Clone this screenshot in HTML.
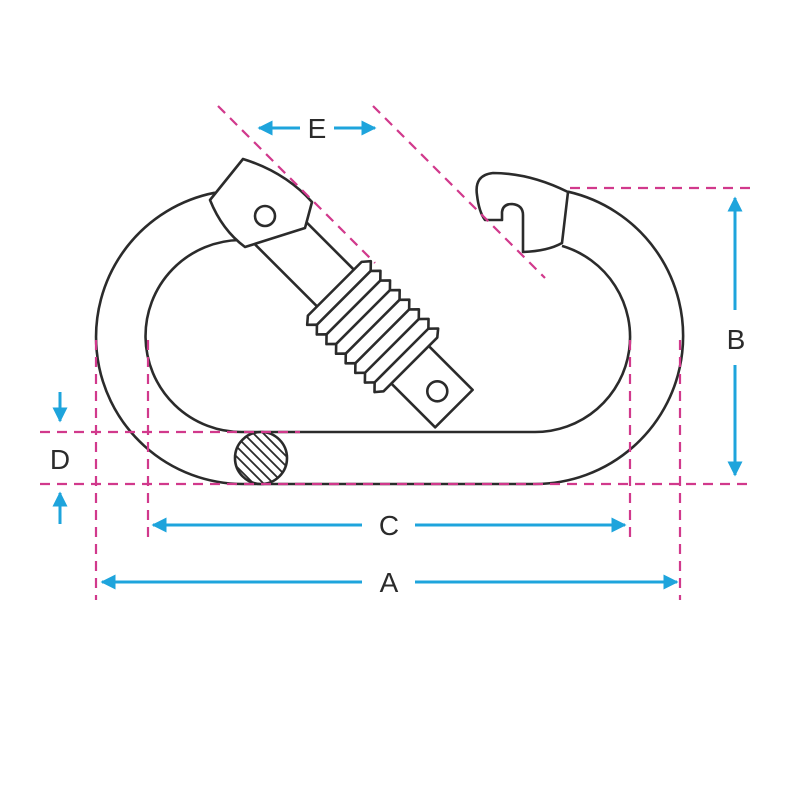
<!DOCTYPE html>
<html><head><meta charset="utf-8"><style>html,body{margin:0;padding:0;background:#fff}svg{display:block}</style></head><body>
<svg width="800" height="800" viewBox="0 0 800 800" xmlns="http://www.w3.org/2000/svg">
<defs>
<clipPath id="cc"><circle cx="261" cy="458" r="26"/></clipPath>
<marker id="ar" viewBox="0 0 10 10" refX="9" refY="5" markerWidth="5" markerHeight="5" orient="auto"><path d="M0,0 L10,5 L0,10 z" fill="#1ea4dc"/></marker>
</defs>
<g fill="none" stroke="#2b2b2b" stroke-width="2.6" stroke-linejoin="round">
<path d="M215,192.7 A147,147 0 0 0 243,484 L535,484 A148,148 0 0 0 568,191.7"/>
<path d="M240,240 A96,96 0 0 0 243,432 L535,432 A95,95 0 0 0 562,245.9"/>
<!-- hook -->
<path fill="#fff" d="M568,192 Q530,173 493,173 Q474,175 477,195 Q479,212 485,220 L502,220 L502,212 Q503,204 512,204 Q523,205 523,215 L523,252 Q548,251 562,243 Z"/>
<!-- gate -->
<g transform="translate(339,293) rotate(45)">
<path fill="#fff" d="M-100,-27 L-4,-27 L-4,25 L-100,25 Z"/>
<path fill="#fff" d="M95,-26 L163,-26 L163,27 L95,27 Z"/>
<circle cx="139" cy="0" r="10" fill="#fff"/>
<path fill="#fff" d="M-6,-38 L0,-45 L6.8,-38 L13.6,-45 L20.4,-38 L27.2,-45 L34,-38 L40.8,-45 L47.6,-38 L54.4,-45 L61.2,-38 L68,-45 L74.8,-38 L81.6,-45 L88.4,-38 L95.2,-45 L101,-38 L101,38 L95.2,45 L88.4,38 L81.6,45 L74.8,38 L68,45 L61.2,38 L54.4,45 L47.6,38 L40.8,45 L34,38 L27.2,45 L20.4,38 L13.6,45 L6.8,38 L0,45 L-6,38 Z"/>
<path d="M6.8,-38 L6.8,38 M20.4,-38 L20.4,38 M34,-38 L34,38 M47.6,-38 L47.6,38 M61.2,-38 L61.2,38 M74.8,-38 L74.8,38 M88.4,-38 L88.4,38"/>
</g>
<path fill="#fff" d="M243,159 L210,200 Q222,230 245,247 L305,228 L312,202 Q285,172 243,159 Z"/>
<circle cx="265" cy="216" r="10" fill="#fff"/>
<!-- section -->
<circle cx="261" cy="458" r="26" fill="#fff"/>
<g clip-path="url(#cc)" stroke-width="1.8">
<path d="M200,410 L300,510 M210,410 L310,510 M220,410 L320,510 M230,410 L330,510 M240,410 L340,510 M190,410 L290,510 M180,410 L280,510 M170,410 L270,510 M160,410 L260,510 M150,410 L250,510 M140,410 L240,510"/>
</g>
</g>
<!-- dashed -->
<g stroke="#d1398c" stroke-width="2.2" stroke-dasharray="10,7" fill="none">
<path d="M570,188 L752,188"/>
<path d="M40,484 L752,484"/>
<path d="M40,432 L300,432"/>
<path d="M96,340 L96,600"/>
<path d="M148,340 L148,540"/>
<path d="M630,340 L630,540"/>
<path d="M680,340 L680,600"/>
<path d="M218,106 L375,263"/>
<path d="M373,106 L545,278"/>
</g>
<!-- arrows -->
<g stroke="#1ea4dc" stroke-width="3" fill="none" marker-end="url(#ar)">
<path d="M362,582 L102,582"/><path d="M415,582 L677,582"/>
<path d="M362,525 L153,525"/><path d="M415,525 L625,525"/>
<path d="M735,310 L735,198"/><path d="M735,365 L735,475"/>
<path d="M300,128 L259,128"/><path d="M334,128 L375,128"/>
<path d="M60,392 L60,421"/><path d="M60,524 L60,493"/>
</g>
<g font-family="Liberation Sans, sans-serif" font-size="28" fill="#2b2b2b" text-anchor="middle">
<text x="389" y="592">A</text>
<text x="389" y="535">C</text>
<text x="736" y="349">B</text>
<text x="60" y="469">D</text>
<text x="317" y="138">E</text>
</g>
</svg>
</body></html>
